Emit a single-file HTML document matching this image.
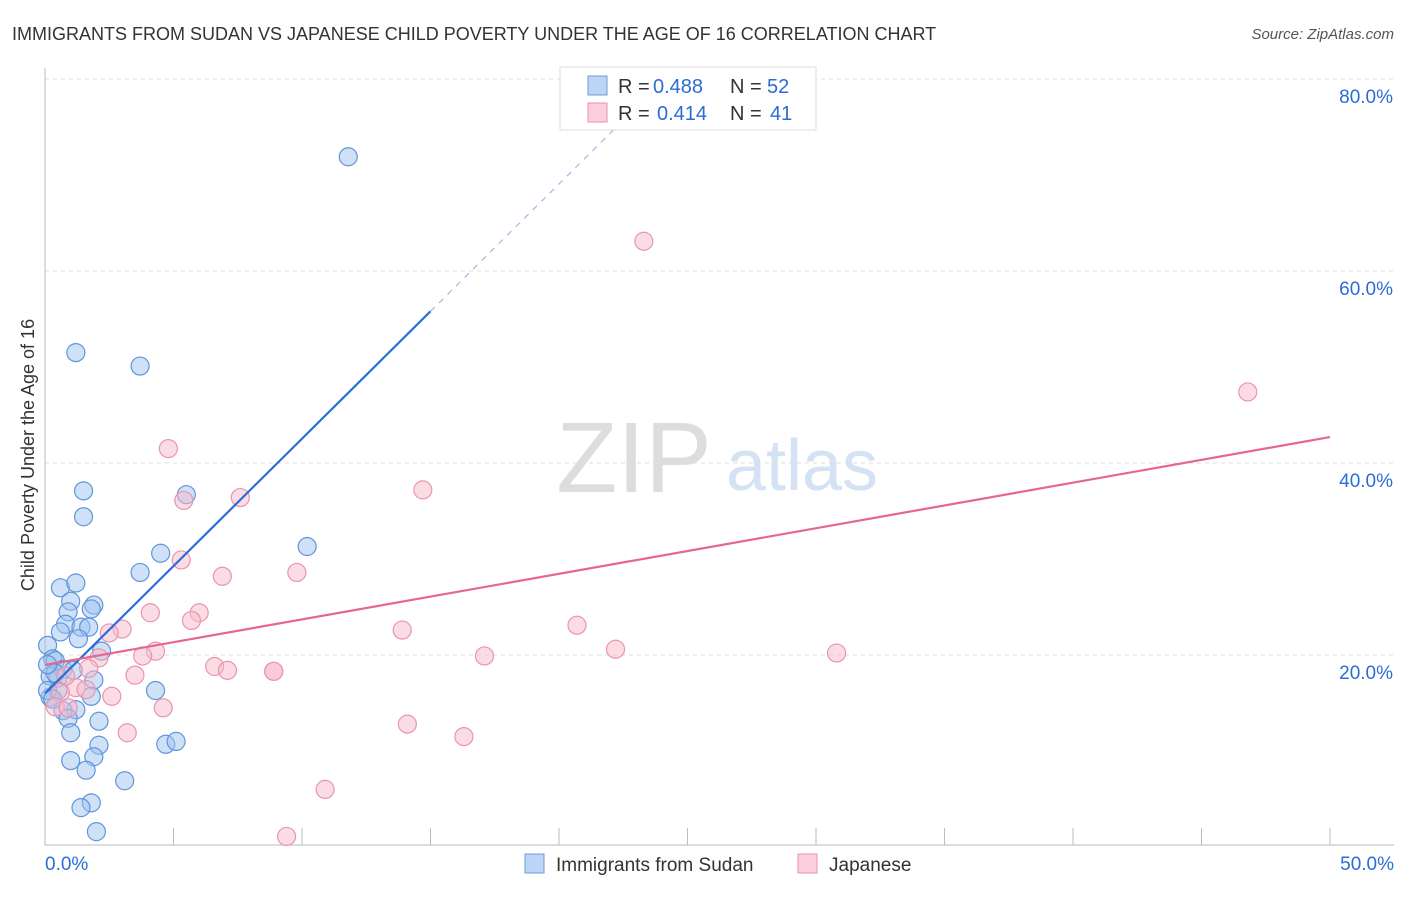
<!DOCTYPE html>
<html><head><meta charset="utf-8"><style>
body{margin:0;background:#fff;font-family:"Liberation Sans",sans-serif}
svg text{font-family:"Liberation Sans",sans-serif}
</style></head><body>
<svg width="1406" height="892" id="chart">
<text x="12" y="40" font-size="18" fill="#333">IMMIGRANTS FROM SUDAN VS JAPANESE CHILD POVERTY UNDER THE AGE OF 16 CORRELATION CHART</text>
<text x="1394" y="39" font-size="15" fill="#555" text-anchor="end" font-style="italic">Source: ZipAtlas.com</text>
<text x="34" y="455" font-size="18" fill="#333" text-anchor="middle" transform="rotate(-90 34 455)">Child Poverty Under the Age of 16</text>
<g><text x="634" y="492" font-size="100" fill="#ddd" text-anchor="middle" font-family="Liberation Serif,serif">ZIP</text><text x="802" y="490" font-size="72" fill="#d4e2f4" text-anchor="middle">atlas</text></g>
<g id="grid"></g><g id="axes"></g><g id="pts"></g><g id="lines"></g>
<g>
<rect x="560" y="67" width="256" height="63" fill="#fff" stroke="#ddd"/>
<rect x="588" y="76" width="19" height="19" fill="#bcd5f5" stroke="#6a9de0"/>
<rect x="588" y="103" width="19" height="19" fill="#fbd0dc" stroke="#e890aa"/>
<text x="618" y="93" font-size="20" fill="#333">R =</text><text x="653" y="93" font-size="20" fill="#2a6dd6">0.488</text>
<text x="730" y="93" font-size="20" fill="#333">N =</text><text x="767" y="93" font-size="20" fill="#2a6dd6">52</text>
<text x="618" y="120" font-size="20" fill="#333">R =</text><text x="657" y="120" font-size="20" fill="#2a6dd6">0.414</text>
<text x="730" y="120" font-size="20" fill="#333">N =</text><text x="770" y="120" font-size="20" fill="#2a6dd6">41</text>
</g>
<g>
<rect x="525" y="854" width="19" height="19" fill="#bcd5f5" stroke="#6a9de0"/>
<text x="556" y="871" font-size="19" fill="#333">Immigrants from Sudan</text>
<rect x="798" y="854" width="19" height="19" fill="#fbd0dc" stroke="#e890aa"/>
<text x="829" y="871" font-size="19" fill="#333">Japanese</text>
</g>
</svg>
<script>
const sudanX=[11.8,1.2,3.7,1.5,5.5,1.5,4.5,10.2,3.7,0.6,1.2,1.0,0.9,1.9,1.8,0.8,1.4,1.7,0.6,1.3,0.1,2.2,0.3,0.4,0.7,1.1,0.2,0.5,1.9,0.5,4.3,0.2,1.8,1.2,0.7,0.9,2.1,1.0,2.1,4.7,5.1,1.9,1.0,1.6,3.1,1.8,1.4,2.0,0.1,0.4,0.3,0.1];
const sudanY=[71.9,51.5,50.1,37.1,36.7,34.4,30.6,31.3,28.6,27.0,27.5,25.6,24.5,25.2,24.8,23.2,22.9,22.9,22.4,21.7,21.0,20.4,19.6,19.4,18.5,18.4,17.8,17.6,17.4,16.3,16.3,15.6,15.7,14.3,14.2,13.4,13.1,11.9,10.6,10.7,11.0,9.4,9.0,8.0,6.9,4.6,4.1,1.6,16.3,18.1,15.4,19.0];
const japX=[23.3,46.8,4.8,14.7,7.6,5.4,5.3,6.9,9.8,4.1,6.0,5.7,20.7,3.0,13.9,2.5,22.2,4.3,17.1,30.8,3.8,2.1,6.6,7.1,8.9,8.9,1.7,3.5,1.2,2.6,0.6,4.6,0.4,0.9,14.1,3.2,16.3,10.9,9.4,1.6,0.8];
const japY=[63.1,47.4,41.5,37.2,36.4,36.1,29.9,28.2,28.6,24.4,24.4,23.6,23.1,22.7,22.6,22.3,20.6,20.4,19.9,20.2,19.9,19.7,18.8,18.4,18.3,18.3,18.6,17.9,16.6,15.7,16.1,14.5,14.6,14.5,12.8,11.9,11.5,6.0,1.1,16.4,17.8];
const sudanLine=[0,16.0,15,55.8,23.1];
const japLine=[0,18.96,50,42.7];
const xTicks=[0,5,10,15,20,25,30,35,40,45,50];
const yTicks=[20,40,60,80];
const X=v=>45+v*25.7, Y=v=>847-v*9.6;
const NS="http://www.w3.org/2000/svg";
function mk(p,t,a){const e=document.createElementNS(NS,t);for(const k in a)e.setAttribute(k,a[k]);document.getElementById(p).appendChild(e);return e;}
yTicks.forEach(t=>{const l=mk('grid','line',{x1:45,x2:1394,y1:Y(t),y2:Y(t),stroke:'#ddd','stroke-dasharray':'4 4'});


const tx=mk('grid','text',{x:1393,y:Y(t)+24,'font-size':19,fill:'#2a6dd6','text-anchor':'end'});tx.textContent=t.toFixed(1)+'%';

});
const ax=mk('axes','path',{d:'M45 68V845H1394',stroke:'#bbb',fill:'none'});


xTicks.forEach(t=>{const l=mk('axes','line',{x1:X(t),x2:X(t),y1:828,y2:845,stroke:'#bbb'});

});
[[0,'start',45],[50,'end',1394]].forEach(([v,a,x])=>{const tx=mk('axes','text',{x:x,y:870,'font-size':19,fill:'#2a6dd6','text-anchor':a});tx.textContent=v.toFixed(1)+'%';

});
sudanX.forEach((v,i)=>{const c=mk('pts','circle',{cx:X(v),cy:Y(sudanY[i]),r:9,fill:'rgba(160,196,240,0.5)',stroke:'#5f95dc','stroke-width':1.2});

});
japX.forEach((v,i)=>{const c=mk('pts','circle',{cx:X(v),cy:Y(japY[i]),r:9,fill:'rgba(248,186,204,0.5)',stroke:'#e995ae','stroke-width':1.2});

});
const sl=(sudanLine[3]-sudanLine[1])/(sudanLine[2]-sudanLine[0]);
const l1=mk('lines','line',{x1:X(sudanLine[0]),y1:Y(sudanLine[1]),x2:X(sudanLine[2]),y2:Y(sudanLine[3]),stroke:'#2a6dd6','stroke-width':2.2});


const l2=mk('lines','line',{x1:X(sudanLine[2]),y1:Y(sudanLine[3]),x2:X(sudanLine[4]),y2:Y(sudanLine[1]+sl*sudanLine[4]),stroke:'#9dbbe8','stroke-width':1.2,'stroke-dasharray':'6 6'});


const l3=mk('lines','line',{x1:X(japLine[0]),y1:Y(japLine[1]),x2:X(japLine[2]),y2:Y(japLine[3]),stroke:'#e5678f','stroke-width':2.2});


</script>
</body></html>
